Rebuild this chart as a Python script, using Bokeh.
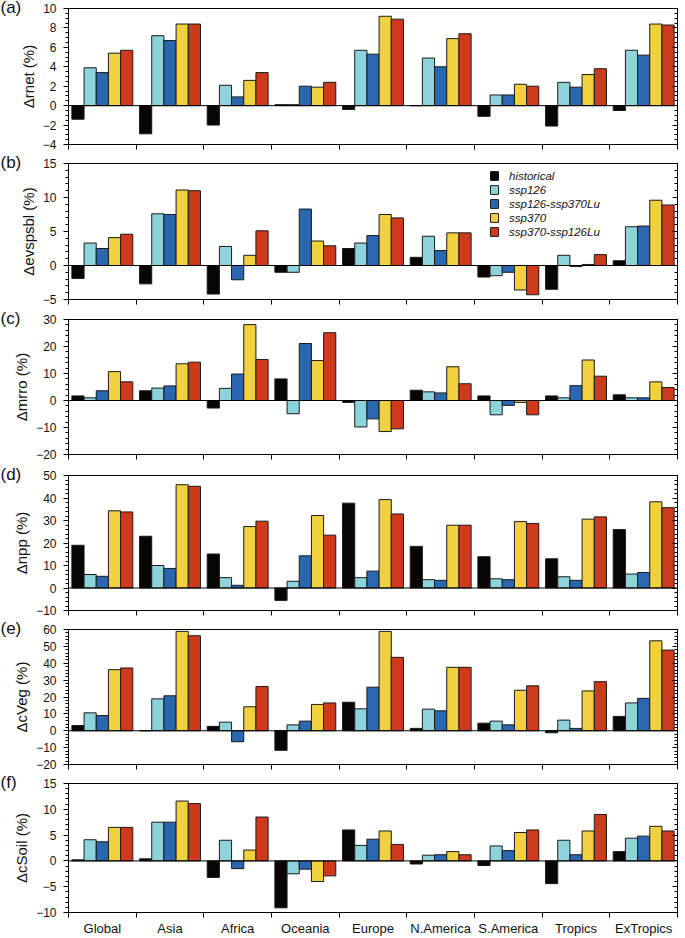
from bokeh.plotting import figure
from bokeh.layouts import column
from bokeh.models import (ColumnDataSource, FixedTicker, LinearAxis, Span,
                          Legend, LegendItem, Range1d)
from bokeh.embed import file_html
from bokeh.resources import INLINE

# ---------------- data ----------------
categories = ["Global", "Asia", "Africa", "Oceania", "Europe",
              "N.America", "S.America", "Tropics", "ExTropics"]
series = ["historical", "ssp126", "ssp126-ssp370Lu", "ssp370", "ssp370-ssp126Lu"]
colors = ["#0a0505", "#8dd3dc", "#2b66b1", "#f2d13f", "#d03a1c"]

# each row: one series, across the 9 categories
rnet = [
    [-1.4, -2.9, -2.0, 0.1, -0.4, 0.0, -1.1, -2.1, -0.5],
    [3.9, 7.2, 2.1, 0.1, 5.7, 4.9, 1.1, 2.4, 5.7],
    [3.4, 6.7, 0.9, 2.0, 5.3, 4.0, 1.1, 1.9, 5.2],
    [5.4, 8.4, 2.6, 1.9, 9.2, 6.9, 2.2, 3.2, 8.4],
    [5.7, 8.4, 3.4, 2.4, 8.9, 7.4, 2.0, 3.8, 8.3],
]
evspsbl = [
    [-1.9, -2.7, -4.2, -1.0, 2.5, 1.2, -1.7, -3.5, 0.7],
    [3.3, 7.6, 2.8, -1.0, 3.3, 4.3, -1.5, 1.5, 5.7],
    [2.5, 7.5, -2.1, 8.3, 4.4, 2.2, -1.0, -0.15, 5.8],
    [4.1, 11.1, 1.5, 3.6, 7.5, 4.8, -3.6, 0.15, 9.6],
    [4.6, 11.0, 5.1, 2.9, 7.0, 4.8, -4.3, 1.6, 8.9],
]
mrro = [
    [1.7, 3.6, -2.8, 8.0, -0.7, 3.8, 1.7, 1.7, 2.1],
    [1.0, 4.6, 4.5, -4.9, -9.8, 3.2, -5.3, 1.0, 1.0],
    [3.6, 5.4, 9.8, 21.1, -6.8, 2.8, -1.8, 5.5, 1.0],
    [10.7, 13.6, 28.1, 14.8, -11.5, 12.5, -0.7, 15.0, 6.9],
    [6.9, 14.2, 15.2, 25.1, -10.5, 6.2, -5.3, 9.0, 4.8],
]
npp = [
    [19.0, 23.0, 15.1, -5.5, 37.7, 18.5, 13.9, 13.0, 26.0],
    [6.0, 10.0, 4.6, 3.0, 4.6, 3.7, 4.1, 5.0, 6.2],
    [5.2, 8.7, 1.2, 14.3, 7.5, 3.4, 3.7, 3.4, 6.9],
    [34.3, 45.9, 27.3, 32.2, 39.3, 27.9, 29.5, 30.6, 38.3],
    [33.8, 45.2, 29.7, 23.5, 32.9, 27.9, 28.7, 31.6, 35.7],
]
cveg = [
    [3.1, 0.0, 2.6, -11.6, 16.9, 1.4, 4.5, -1.2, 8.5],
    [10.6, 18.9, 5.1, 3.5, 13.0, 12.8, 5.7, 6.3, 16.5],
    [9.0, 20.7, -6.5, 5.7, 25.8, 11.8, 3.5, 1.4, 19.2],
    [36.2, 58.9, 14.2, 15.6, 58.9, 37.6, 24.0, 23.6, 53.3],
    [37.2, 56.3, 26.2, 16.5, 43.5, 37.6, 26.6, 29.1, 47.8],
]
csoil = [
    [0.2, 0.4, -3.2, -9.1, 6.0, -0.6, -0.9, -4.4, 1.8],
    [4.1, 7.5, 4.0, -2.5, 3.0, 1.1, 2.9, 4.0, 4.4],
    [3.7, 7.5, -1.5, -1.6, 4.2, 1.2, 2.0, 1.2, 4.8],
    [6.5, 11.6, 2.1, -4.0, 5.8, 1.8, 5.5, 5.8, 6.7],
    [6.5, 11.1, 8.5, -2.9, 3.2, 1.2, 6.0, 9.0, 5.8],
]

panels = [
    ("(a)", "\u0394rnet (%)", rnet, (-4, 10), 2, 0.5),
    ("(b)", "\u0394evspsbl (%)", evspsbl, (-5, 15), 5, 1),
    ("(c)", "\u0394mrro (%)", mrro, (-20, 30), 10, 2),
    ("(d)", "\u0394npp (%)", npp, (-10, 50), 10, 2),
    ("(e)", "\u0394cVeg (%)", cveg, (-20, 60), 10, 2),
    ("(f)", "\u0394cSoil (%)", csoil, (-10, 15), 5, 1),
]

# ---------------- layout ----------------
FONT = "Liberation Sans"
W = 685
BL = 68
# (canvas height, border top, border bottom)
geom = [(155, 8, 11), (155, 8, 11), (155, 9, 11), (155, 10, 10), (155, 9, 11), (163, 8, 20)]
BAR_W = 0.18
OFF0 = 0.14

figs = []
for idx, (tag, ylab, data, (y0, y1), major, minor) in enumerate(panels):
    h, bt, bb = geom[idx]
    last = idx == len(panels) - 1
    p = figure(width=W, height=h, output_backend="svg", toolbar_location=None,
               x_range=Range1d(0, 9), y_range=Range1d(y0, y1),
               min_border_left=BL, min_border_right=8,
               min_border_top=bt, min_border_bottom=bb,
               x_axis_location=None, y_axis_location=None)
    p.grid.visible = False
    p.outline_line_color = "black"
    p.outline_line_width = 1
    p.background_fill_color = "white"
    p.border_fill_color = "white"

    # panel tag as title, pulled into the left margin
    p.title.text = tag
    p.title.align = "left"
    p.title.offset = -BL
    p.title.standoff = -16
    p.title.text_font = FONT
    p.title.text_font_size = "17px"
    p.title.text_font_style = "normal"
    p.title.text_color = "#111111"

    # y ticks
    nmaj = int(round((y1 - y0) / major))
    majors = [y0 + k * major for k in range(nmaj + 1)]
    nmin = int(round((y1 - y0) / minor))
    minors = [y0 + k * minor for k in range(nmin + 1)]

    yl = LinearAxis(ticker=FixedTicker(ticks=majors, minor_ticks=minors), axis_label=ylab)
    yl.major_tick_out = 5
    yl.major_tick_in = 0
    yl.minor_tick_out = 3
    yl.minor_tick_in = 0
    yl.major_label_standoff = 7
    yl.major_label_text_font = FONT
    yl.major_label_text_font_size = "12px"
    yl.major_label_text_color = "#111111"
    yl.axis_label_text_font = FONT
    yl.axis_label_text_font_size = "15px"
    yl.axis_label_text_font_style = "normal"
    yl.axis_label_text_color = "#111111"
    yl.axis_label_standoff = 3
    yl.axis_line_color = "black"
    p.add_layout(yl, "left")

    yr = LinearAxis(ticker=FixedTicker(ticks=majors, minor_ticks=minors))
    yr.major_tick_out = 0
    yr.major_tick_in = 5
    yr.minor_tick_out = 0
    yr.minor_tick_in = 3
    yr.major_label_text_font_size = "1px"
    yr.major_label_text_color = None
    yr.major_label_standoff = 0
    yr.axis_line_color = "black"
    p.add_layout(yr, "right")

    # x axis: boundary ticks, category labels on last panel
    bounds = list(range(10))
    centers = [i + 0.5 for i in range(9)]
    if last:
        xa = LinearAxis(ticker=FixedTicker(ticks=centers, minor_ticks=bounds))
        xa.major_tick_out = 0
        xa.major_tick_in = 0
        xa.minor_tick_out = 5
        xa.minor_tick_in = 0
        xa.major_label_overrides = {c: name for c, name in zip(centers, categories)}
        xa.major_label_text_font = FONT
        xa.major_label_text_font_size = "13px"
        xa.major_label_text_color = "#111111"
        xa.major_label_standoff = 3
    else:
        xa = LinearAxis(ticker=FixedTicker(ticks=bounds, minor_ticks=[]))
        xa.major_tick_out = 5
        xa.major_tick_in = 0
        xa.major_label_text_font_size = "1px"
        xa.major_label_text_color = None
        xa.major_label_standoff = 0
    xa.axis_line_color = "black"
    p.add_layout(xa, "below")

    p.add_layout(Span(location=0, dimension="width", line_color="black", line_width=1))

    renderers = []
    for k, (name, col) in enumerate(zip(series, colors)):
        src = ColumnDataSource(dict(x=[i + OFF0 + k * BAR_W for i in range(9)], top=data[k]))
        r = p.vbar(x="x", top="top", bottom=0, width=BAR_W, source=src,
                   fill_color=col, line_color="#1a1a1a", line_width=1)
        renderers.append(r)

    if idx == 1:
        items = [LegendItem(label=n, renderers=[r]) for n, r in zip(series, renderers)]
        leg = Legend(items=items, location=(421, 61), orientation="vertical",
                     glyph_width=10, glyph_height=11, label_standoff=10,
                     label_height=13, spacing=1, padding=0, margin=0,
                     border_line_color=None, background_fill_alpha=0,
                     label_text_font=FONT, label_text_font_size="11.5px",
                     label_text_font_style="italic", label_text_color="#111111")
        p.add_layout(leg, "center")

    figs.append(p)

layout = column(*figs, spacing=0)
open("out.html", "w").write(file_html(layout, INLINE))
